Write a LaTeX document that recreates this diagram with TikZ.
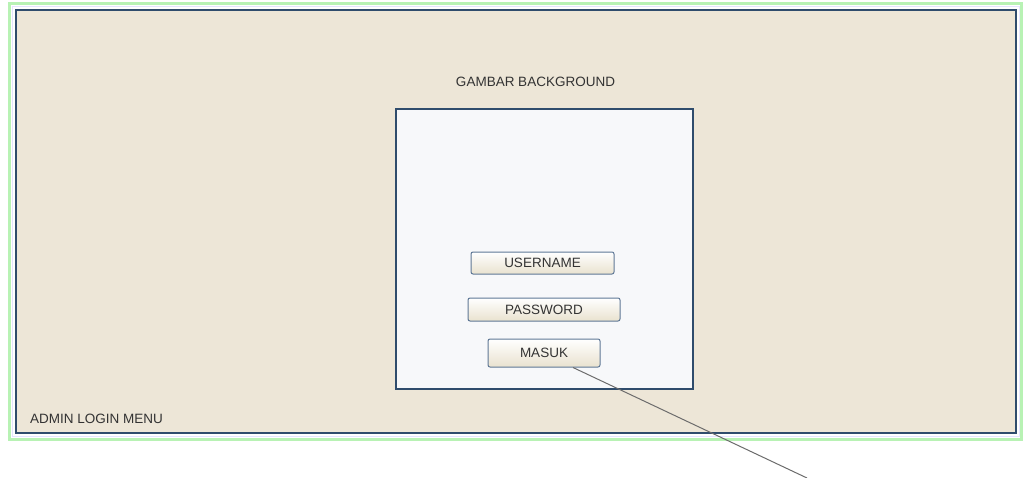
\documentclass[tikz,border=0pt]{standalone}
\usepackage{fontspec}
\setmainfont{Liberation Sans}
\definecolor{bgbeige}{HTML}{EDE6D7}
\definecolor{panel}{HTML}{F7F8FA}
\definecolor{frameblue}{HTML}{2F4C6C}
\definecolor{framegreen}{HTML}{B8F2B4}
\definecolor{btnborder}{HTML}{5F7896}
\definecolor{btnbottom}{HTML}{E9E2CF}
\definecolor{txt}{HTML}{333333}
\tikzset{
  btn/.style={draw=btnborder, line width=1pt, rounded corners=2pt, top color=white, bottom color=btnbottom, inner sep=0pt, font=\fontsize{13.5}{14}\selectfont, text=txt},
  lbl/.style={inner sep=0pt, font=\fontsize{13.5}{14}\selectfont, text=txt}
}
\begin{document}
\begin{tikzpicture}[x=1pt,y=-1pt]
\useasboundingbox (0,0) rectangle (1027,478);
\fill[white] (0,0) rectangle (1027,478);
% outer green frame
\draw[framegreen, line width=3pt] (9,4) rectangle (1021,439);
\draw[white!90!blue, line width=1pt] (12,7) rectangle (1019,436);
% main dark blue frame
\draw[frameblue, line width=2pt, fill=bgbeige] (16,10) rectangle (1016,433);
% inner panel
\draw[frameblue, line width=2pt, fill=panel] (396,109) rectangle (693,389);
% labels
\node[lbl] (title) at (535.5,82) {GAMBAR BACKGROUND};
\node[lbl, anchor=west] (menu) at (30,419) {ADMIN LOGIN MENU};
% buttons
\node[btn, minimum width=143pt, minimum height=22pt] (user) at (542.5,263) {USERNAME};
\node[btn, minimum width=152pt, minimum height=23pt] (pass) at (544,309.5) {PASSWORD};
\node[btn, minimum width=112pt, minimum height=28pt] (masuk) at (544,353) {MASUK};
% connector
\coordinate (end) at (807,478);
\draw[gray!85!black, line width=1pt] ([xshift=29pt]masuk.south) -- (end);
\end{tikzpicture}
\end{document}
